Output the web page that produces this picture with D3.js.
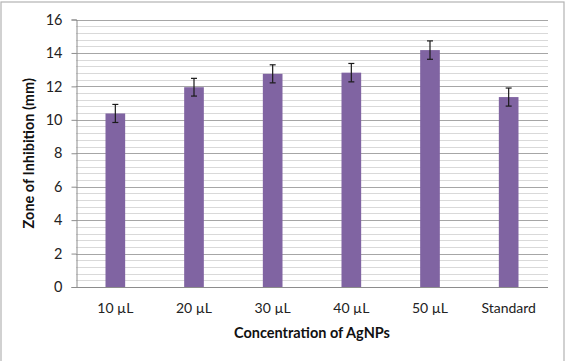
<!DOCTYPE html>
<html>
<head>
<meta charset="utf-8">
<script src="https://cdn.jsdelivr.net/npm/d3@7"></script>
<style>
  body { margin: 0; background: #fff; }
  text { font-family: Lato, "Open Sans", sans-serif; }
</style>
</head>
<body>
<svg id="chart" width="569" height="361"></svg>
<script>
var categories = ["10 µL", "20 µL", "30 µL", "40 µL", "50 µL", "Standard"];
var values = [10.38, 11.95, 12.75, 12.82, 14.17, 11.36];
var errors = [0.54, 0.53, 0.54, 0.55, 0.55, 0.54];
var yTicks = [0, 2, 4, 6, 8, 10, 12, 14, 16];

var svg = d3.select("#chart");
var W = 569, H = 361;
var margin = {left: 76, right: 21, top: 19.5, bottom: 74};

// outer frame
svg.append("rect")
  .attr("x", 1).attr("y", 2)
  .attr("width", 563).attr("height", H + 10)
  .attr("fill", "none").attr("stroke", "#b3b3b3").attr("stroke-width", 1.2);

var x = d3.scaleBand().domain(categories)
  .range([margin.left, W - margin.right]);
var y = d3.scaleLinear().domain([0, 16])
  .range([H - margin.bottom, margin.top]);

// minor gridlines every 0.4
var minor = d3.range(0, 16.01, 0.4).filter(function(v) { return Math.abs(v / 2 - Math.round(v / 2)) > 0.01; });
svg.append("g").selectAll("line").data(minor).join("line")
  .attr("x1", margin.left).attr("x2", W - margin.right)
  .attr("y1", function(d) { return Math.round(y(d)) + 0.5; })
  .attr("y2", function(d) { return Math.round(y(d)) + 0.5; })
  .attr("stroke", "#d9d9d9").attr("stroke-width", 1);

// major gridlines
svg.append("g").selectAll("line").data(yTicks.slice(1)).join("line")
  .attr("x1", margin.left).attr("x2", W - margin.right)
  .attr("y1", function(d) { return Math.round(y(d)) + 0.5; })
  .attr("y2", function(d) { return Math.round(y(d)) + 0.5; })
  .attr("stroke", "#a6a6a6").attr("stroke-width", 1);

// y axis
var yAxis = svg.append("g")
  .attr("transform", "translate(" + (margin.left + 0.5) + ",0)")
  .call(d3.axisLeft(y).tickValues(yTicks).tickSize(5).tickPadding(9));
yAxis.select(".domain").attr("stroke", "#8c8c8c");
yAxis.selectAll(".tick line").attr("stroke", "#8c8c8c");
yAxis.selectAll(".tick text").attr("font-size", 14.5).attr("fill", "#222")
  .attr("font-family", "Lato, 'Open Sans', sans-serif");

// bars
var bw = x.bandwidth() * 0.25;
svg.append("g").selectAll("rect").data(values).join("rect")
  .attr("x", function(d, i) { return x(categories[i]) + x.bandwidth() / 2 - bw / 2; })
  .attr("y", function(d) { return y(d); })
  .attr("width", bw)
  .attr("height", function(d) { return y(0) - y(d); })
  .attr("fill", "#8064a2");

// x axis line
svg.append("line")
  .attr("x1", margin.left).attr("x2", W - margin.right)
  .attr("y1", Math.round(y(0)) + 0.5).attr("y2", Math.round(y(0)) + 0.5)
  .attr("stroke", "#8c8c8c");

// error bars
var eb = svg.append("g").attr("stroke", "#1a1a1a").attr("stroke-width", 1.2);
values.forEach(function(v, i) {
  var cx = x(categories[i]) + x.bandwidth() / 2;
  eb.append("line").attr("x1", cx).attr("x2", cx)
    .attr("y1", y(v + errors[i])).attr("y2", y(v - errors[i]));
  [v + errors[i], v - errors[i]].forEach(function(e) {
    eb.append("line").attr("x1", cx - 3).attr("x2", cx + 3)
      .attr("y1", y(e)).attr("y2", y(e));
  });
});

// category labels
svg.append("g").selectAll("text").data(categories).join("text")
  .attr("x", function(d) { return x(d) + x.bandwidth() / 2; })
  .attr("y", 313)
  .attr("text-anchor", "middle")
  .attr("font-size", 14).attr("fill", "#222")
  .text(function(d) { return d; });

// axis titles
svg.append("text")
  .attr("x", (margin.left + W - margin.right) / 2).attr("y", 338)
  .attr("text-anchor", "middle")
  .attr("font-size", 14.5).attr("font-weight", "bold").attr("fill", "#111")
  .text("Concentration of AgNPs");

svg.append("text")
  .attr("transform", "translate(34," + (y(8)) + ") rotate(-90)")
  .attr("text-anchor", "middle")
  .attr("font-size", 14.5).attr("font-weight", "bold").attr("fill", "#111")
  .text("Zone of Inhibition (mm)");
</script>
</body>
</html>
